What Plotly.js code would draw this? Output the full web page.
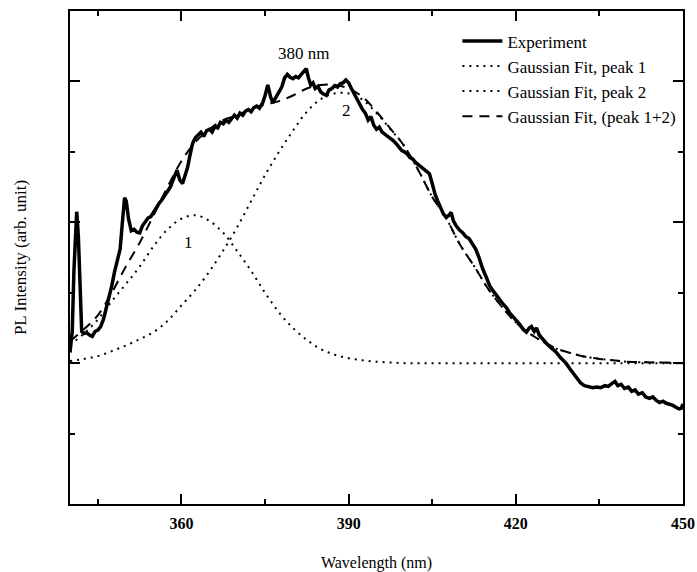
<!DOCTYPE html>
<html>
<head>
<meta charset="utf-8">
<script src="https://cdn.plot.ly/plotly-3.0.1.min.js"></script>
<style>html,body{margin:0;padding:0;background:#fff;}#chart{width:697px;height:572px;}</style>
</head>
<body>
<div id="chart"></div>
<script>
// Experiment spectrum (wavelength nm, intensity arb.)
const expX = [340.0,340.4,340.7,341.0,341.2,341.5,341.8,342.1,342.5,343.0,343.5,344.0,344.5,345.0,345.5,346.0,346.5,347.0,347.5,348.0,348.5,349.0,349.4,349.8,350.1,350.5,351.0,351.5,352.0,352.5,353.0,353.5,354.0,354.5,355.0,355.5,356.0,356.5,357.0,357.5,358.0,358.6,359.2,359.7,360.2,360.7,361.1,361.6,362.0,362.5,363.0,363.5,364.0,364.5,365.0,365.5,366.0,366.5,367.0,367.5,368.0,368.5,369.0,369.5,370.0,370.5,371.0,371.5,372.0,372.5,373.0,373.5,374.0,374.6,375.0,375.5,376.0,376.4,377.0,377.5,378.0,378.5,379.0,379.5,380.0,380.5,381.0,381.5,382.0,382.4,382.8,383.2,383.6,384.0,384.5,385.0,385.5,386.0,386.5,387.0,387.5,388.0,388.5,389.0,389.5,390.0,390.5,391.0,391.5,392.0,392.5,393.0,393.5,394.0,394.5,395.0,395.5,396.0,396.5,397.0,397.5,398.0,398.5,399.0,399.5,400.0,400.5,401.0,401.5,402.0,402.5,403.0,403.5,404.0,404.5,405.0,405.5,406.0,406.5,407.0,407.5,408.0,408.4,408.8,409.3,409.9,410.5,411.0,411.6,412.2,412.8,413.4,414.0,414.7,415.3,415.8,416.5,417.0,417.7,418.3,419.0,419.5,420.1,420.7,421.3,421.9,422.4,422.8,423.3,423.7,424.2,424.7,425.5,426.3,427.2,428.0,429.0,429.7,430.4,431.0,431.6,432.3,433.0,433.8,434.5,435.2,436.0,436.6,437.2,437.8,438.3,438.9,439.5,440.2,440.8,441.4,442.0,442.7,443.3,444.0,444.6,445.2,445.8,446.4,447.0,447.6,448.2,448.8,449.3,449.7,450.0];
const expY = [2.15,2.45,3.3,4.0,4.15,3.8,3.0,2.45,2.42,2.43,2.40,2.38,2.45,2.47,2.52,2.62,2.78,2.92,3.10,3.30,3.45,3.62,4.0,4.35,4.3,4.05,3.88,3.9,3.86,3.85,3.95,4.0,4.06,4.08,4.15,4.22,4.27,4.32,4.38,4.45,4.5,4.62,4.74,4.6,4.55,4.68,4.78,4.98,5.12,5.2,5.24,5.28,5.22,5.3,5.32,5.28,5.36,5.34,5.42,5.40,5.45,5.42,5.47,5.52,5.48,5.55,5.52,5.58,5.6,5.57,5.63,5.65,5.62,5.7,5.8,5.95,5.78,5.70,5.78,5.85,5.92,6.05,6.1,6.06,6.04,6.07,6.05,6.1,6.15,6.18,6.05,5.95,5.98,5.9,5.93,5.85,5.82,5.8,5.88,5.9,5.94,5.92,5.97,5.98,6.02,5.98,5.9,5.82,5.75,5.68,5.6,5.55,5.45,5.5,5.38,5.32,5.35,5.28,5.25,5.22,5.2,5.16,5.12,5.07,5.02,5.0,4.97,4.92,4.9,4.85,4.82,4.78,4.75,4.72,4.69,4.55,4.4,4.3,4.2,4.12,4.07,4.1,4.14,4.02,3.95,3.89,3.85,3.8,3.77,3.7,3.62,3.5,3.35,3.22,3.1,3.04,2.96,2.9,2.84,2.79,2.7,2.66,2.61,2.55,2.48,2.44,2.5,2.52,2.45,2.5,2.4,2.35,2.28,2.22,2.16,2.08,2.0,1.92,1.85,1.78,1.72,1.68,1.66,1.65,1.66,1.65,1.68,1.67,1.71,1.74,1.68,1.70,1.64,1.66,1.6,1.62,1.56,1.58,1.52,1.5,1.52,1.47,1.44,1.46,1.43,1.42,1.40,1.37,1.35,1.36,1.42];

// Gaussian fit curves
const fitX = [340,342.5,345,347.5,350,352.5,355,357.5,360,362.5,365,367.5,370,372.5,375,377.5,380,382.5,385,387.5,390,392.5,395,397.5,400,402.5,405,407.5,410,412.5,415,417.5,420,422.5,425,427.5,430,432.5,435,437.5,440,445,450];
const peak1Y = [2.26,2.42,2.62,2.88,3.12,3.37,3.66,3.9,4.05,4.1,4.02,3.85,3.59,3.31,3.0,2.72,2.5,2.33,2.2,2.12,2.07,2.04,2.02,2.01,2.0,2.0,2.0,2.0,2.0,2.0,2.0,2.0,2.0,2.0,2.0,2.0,2.0,2.0,2.0,2.0,2.0,2.0,2.0];
const peak2Y = [2.03,2.06,2.1,2.17,2.25,2.34,2.44,2.6,2.82,3.04,3.3,3.6,3.93,4.3,4.67,5.0,5.3,5.57,5.75,5.83,5.83,5.74,5.55,5.32,5.08,4.74,4.36,4.06,3.68,3.38,3.06,2.8,2.58,2.42,2.3,2.2,2.14,2.09,2.06,2.04,2.02,2.01,2.0];
const sumY = [2.31,2.48,2.68,3.0,3.37,3.71,4.1,4.5,4.87,5.14,5.32,5.45,5.52,5.61,5.67,5.72,5.8,5.9,5.95,5.95,5.9,5.78,5.57,5.33,5.08,4.74,4.36,4.06,3.68,3.38,3.06,2.8,2.58,2.42,2.3,2.2,2.14,2.09,2.06,2.04,2.02,2.01,2.0];

const seriesNames = ['Experiment','Gaussian Fit, peak 1','Gaussian Fit, peak 2','Gaussian Fit, (peak 1+2)'];
const labelTexts = ['380 nm','1','2'];
const labelX = [381.9,361.3,389.6];
const labelY = [6.40,3.72,5.59];
const xTickVals = [360,390,420,450];

const serif = 'Liberation Serif, Times New Roman, serif';

const traces = [
  {x: expX, y: expY, name: seriesNames[0], mode: 'lines', line: {color: '#000', width: 3.5}},
  {x: fitX, y: peak1Y, name: seriesNames[1], mode: 'lines', line: {color: '#000', width: 2, dash: '2px,5px', shape: 'spline'}},
  {x: fitX, y: peak2Y, name: seriesNames[2], mode: 'lines', line: {color: '#000', width: 2, dash: '2px,5px', shape: 'spline'}},
  {x: fitX, y: sumY, name: seriesNames[3], mode: 'lines', line: {color: '#000', width: 2, dash: '10px,7px', shape: 'spline'}}
];

const annotations = labelTexts.map((t, i) => ({
  x: labelX[i], y: labelY[i], xref: 'x', yref: 'y', text: t, showarrow: false,
  font: {family: serif, size: 17, color: '#000'}
}));

const layout = {
  width: 697, height: 572,
  margin: {l: 70, r: 14, t: 11, b: 68},
  paper_bgcolor: '#fff', plot_bgcolor: '#fff',
  showlegend: true,
  legend: {x: 0.632, y: 0.975, xanchor: 'left', yanchor: 'top', bgcolor: 'rgba(0,0,0,0)',
           font: {family: serif, size: 17, color: '#000'}, itemwidth: 40},
  xaxis: {
    range: [340, 450], tickvals: xTickVals, ticktext: xTickVals.map(String),
    showgrid: false, zeroline: false, showline: true, linecolor: '#000', linewidth: 2,
    mirror: 'allticks', ticks: 'inside', ticklen: 10, tickwidth: 2, tickcolor: '#000',
    minor: {dtick: 15, tick0: 0, ticks: 'inside', ticklen: 5, tickwidth: 2, tickcolor: '#000', showgrid: false},
    tickfont: {family: serif, size: 16, color: '#000', weight: 'bold'},
    ticklabelstandoff: 4,
    title: {text: 'Wavelength (nm)', font: {family: serif, size: 16, color: '#000'}, standoff: 28}
  },
  yaxis: {
    range: [0, 7], dtick: 2, tick0: 0, showticklabels: false,
    showgrid: false, zeroline: false, showline: true, linecolor: '#000', linewidth: 2,
    mirror: 'allticks', ticks: 'inside', ticklen: 10, tickwidth: 2, tickcolor: '#000',
    minor: {dtick: 1, tick0: 0, ticks: 'inside', ticklen: 5, tickwidth: 2, tickcolor: '#000', showgrid: false},
    title: {text: 'PL Intensity (arb. unit)', font: {family: serif, size: 17, color: '#000'}, standoff: 37}
  },
  annotations: annotations
};

Plotly.newPlot('chart', traces, layout, {displayModeBar: false, staticPlot: true});
</script>
</body>
</html>
